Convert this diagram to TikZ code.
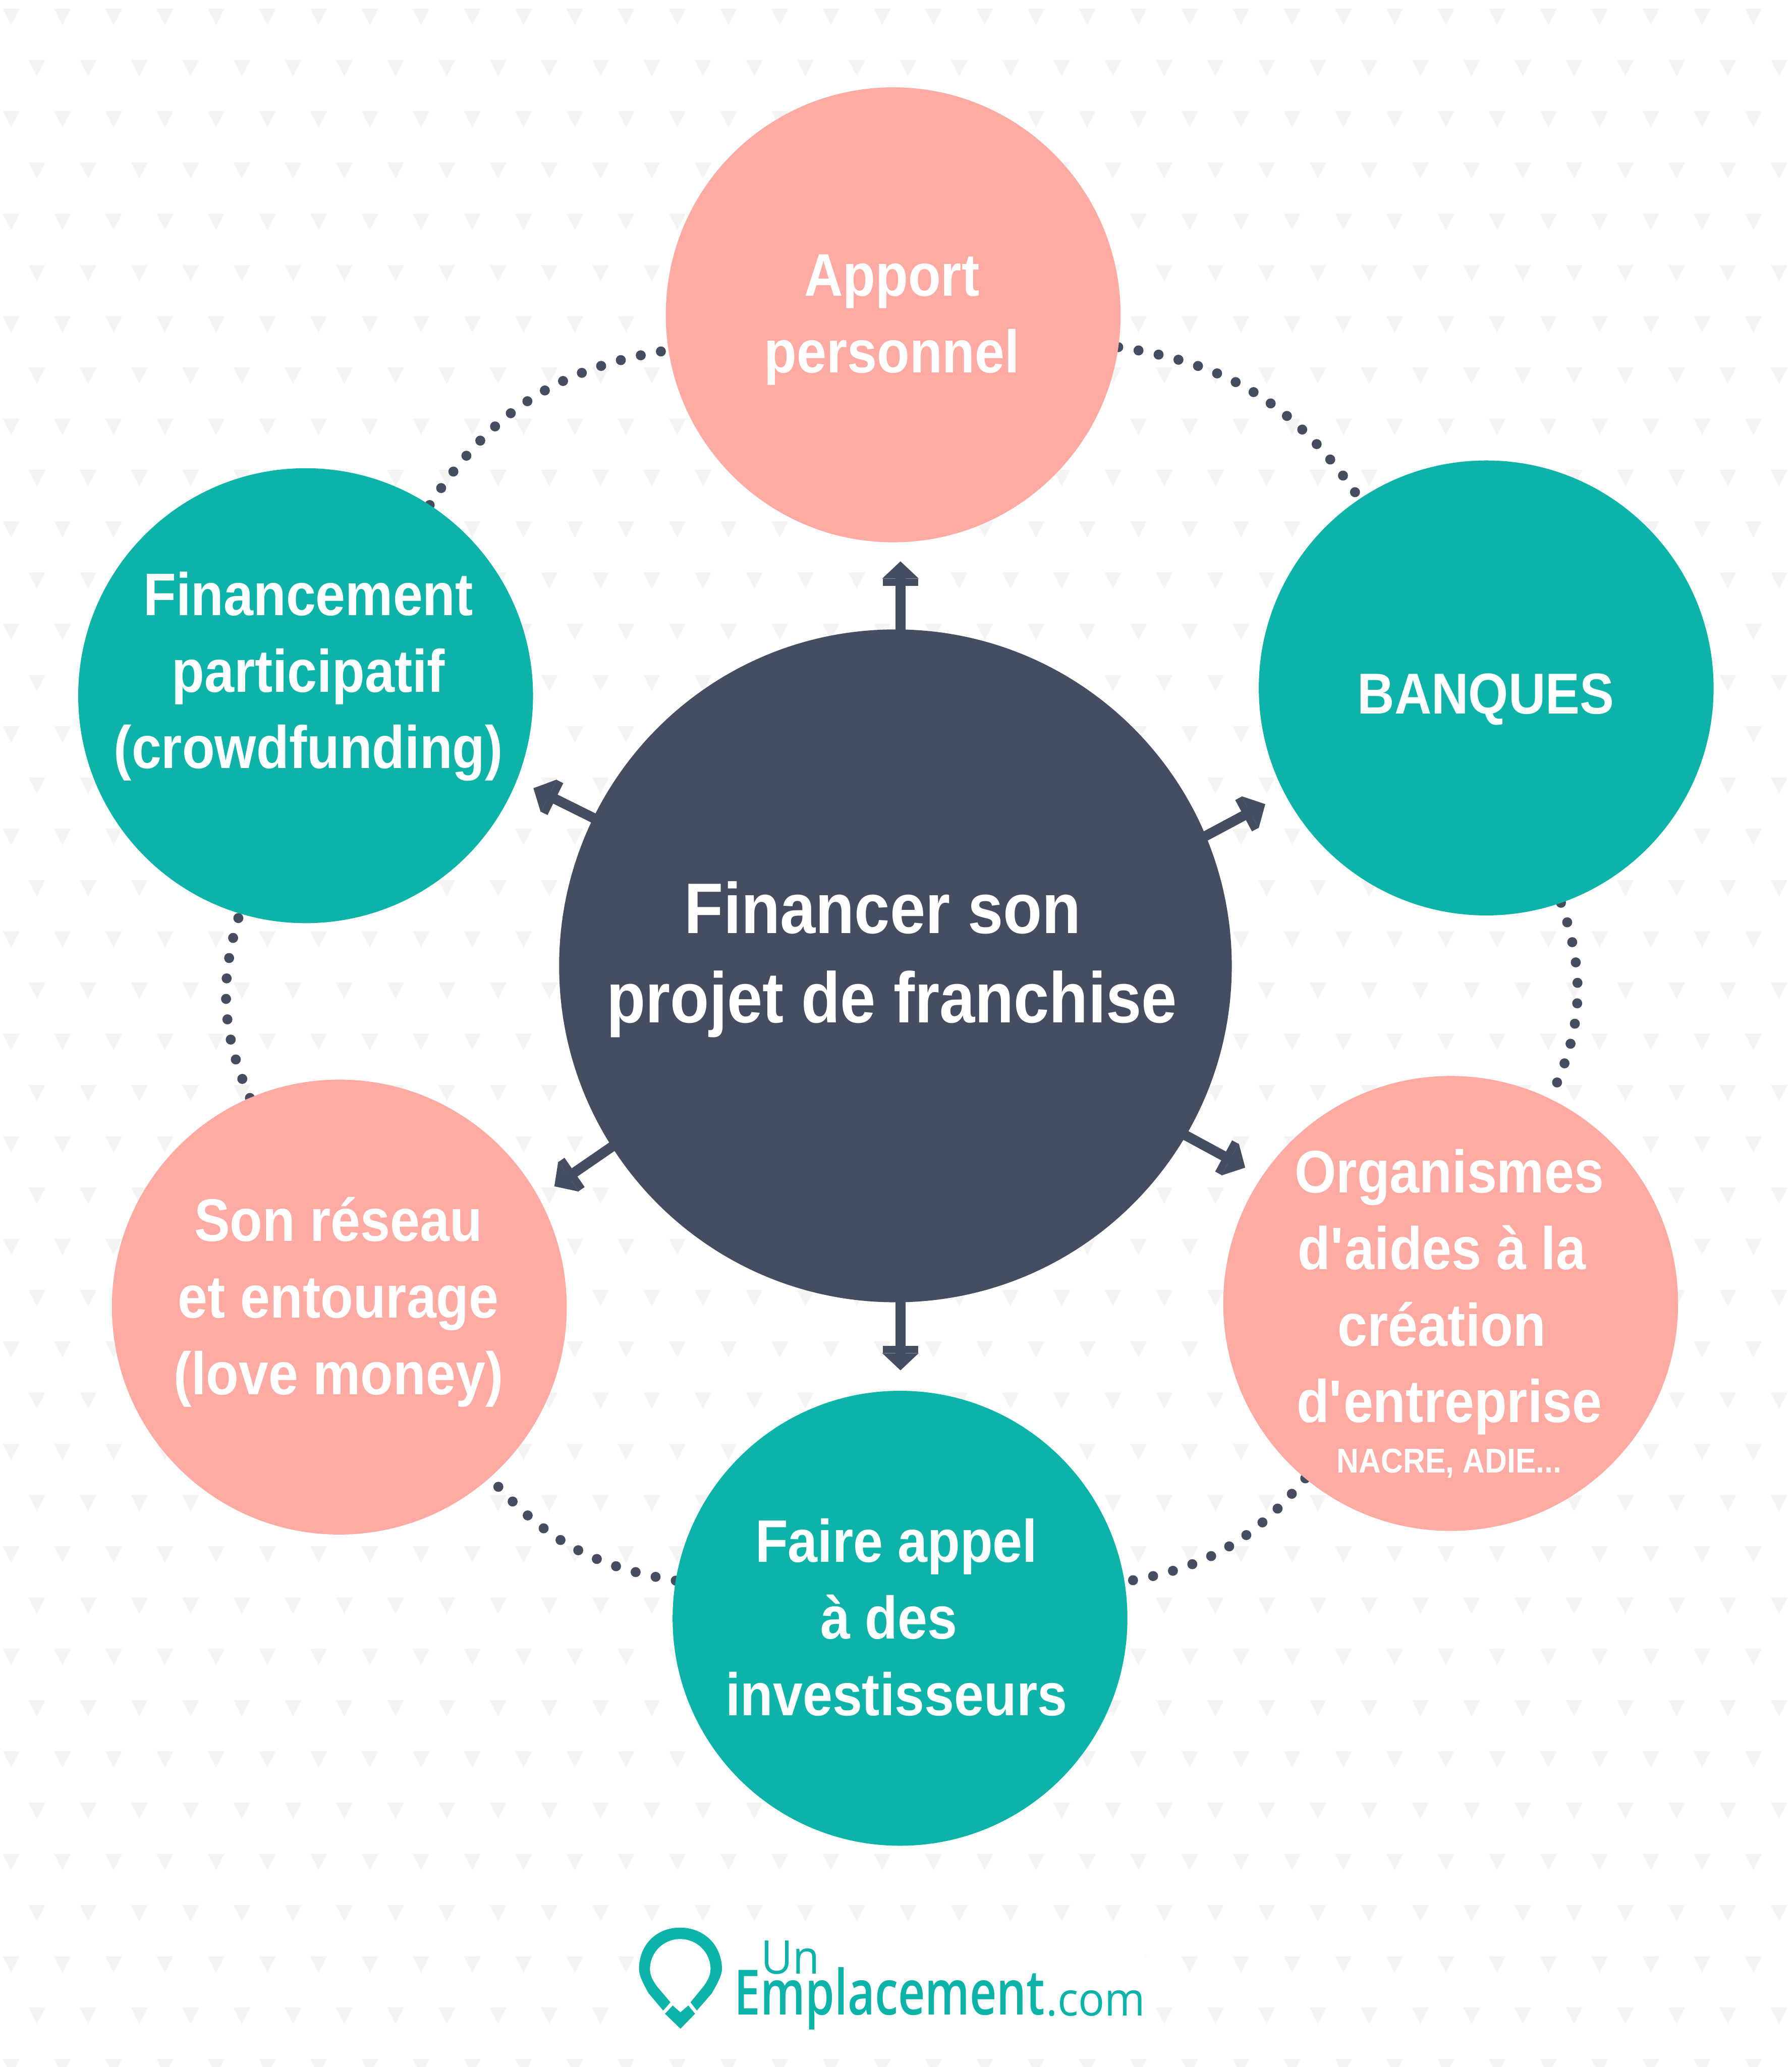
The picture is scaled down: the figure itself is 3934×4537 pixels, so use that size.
\documentclass[tikz,border=0pt]{standalone}
\usepackage{fontspec}
\setmainfont{Liberation Sans}[FakeStretch=0.89]
\newfontfamily\logofont{Open Sans}[FakeStretch=0.94]
\newfontfamily\logobold{Open Sans Semibold}[FakeStretch=0.75]
\usetikzlibrary{arrows.meta,backgrounds}
\definecolor{tealc}{HTML}{0DB3A9}
\definecolor{pinkc}{HTML}{FFAAA2}
\definecolor{darkc}{HTML}{454E60}
\definecolor{trig}{HTML}{F4F4F4}
\newcommand{\finl}{\kern0.25em\relax}

\begin{document}
\begin{tikzpicture}[x=0.01cm,y=-0.01cm,
  rond/.style={circle,minimum size=9.98cm,inner sep=0pt,outer sep=0pt},
  lbl/.style={text=white,align=center,inner sep=0pt,font=\bfseries\fontsize{37.5}{47.8}\selectfont},
  dotline/.style={darkc,line width=0.22cm,line cap=round,dash pattern=on 0pt off 0.45cm},
  fleche/.style={darkc,line width=0.22cm,shorten <=-4pt,-{Rectangle[length=0.16cm,width=0.78cm]Triangle[length=0.38cm,width=0.78cm]}}]
\useasboundingbox (0,0) rectangle (3934,4537);

\node[rond,fill=pinkc] (apport) at (1961,691) {};
\node[rond,fill=tealc] (banques) at (3263,1510) {};
\node[rond,fill=pinkc] (aides) at (3185,2861) {};
\node[rond,fill=tealc] (invest) at (1976,3552) {};
\node[rond,fill=pinkc] (reseau) at (745,2869) {};
\node[rond,fill=tealc] (crowd) at (671,1527) {};
\node[circle,minimum size=14.76cm,inner sep=0pt,outer sep=0pt,fill=darkc] (centre) at (1966,2120) {};

\node[lbl] (tapport) at (1958,702) {Apport\\personnel};
\node[lbl,font=\bfseries\fontsize{36}{47.8}\selectfont] (tbanques) at (3262,1535) {BANQUES};
\node[lbl] (taides) at (3182,2836) {Organismes\\d\textquotesingle aides à la\finl\\création\finl\\d\textquotesingle entreprise};
\node[lbl,font=\bfseries\fontsize{21.5}{25}\selectfont] (tnacre) at (3182,3212) {NACRE, ADIE...};
\node[lbl] (tinvest) at (1968,3550) {Faire appel\\à des\finl\\investisseurs};
\node[lbl] (treseau) at (743,2858) {Son réseau\\et entourage\\(love money)};
\node[lbl] (tcrowd) at (677,1485) {Financement\\participatif\\(crowdfunding)};
\node[lbl,font=\bfseries\fontsize{44.7}{56}\selectfont] (tcentre) at (1958,2106) {Financer son\finl\\projet de franchise};

\coordinate (pup) at (1977,1232);
\coordinate (pru) at (2778,1765);
\coordinate (prd) at (2734,2563);
\coordinate (pdn) at (1977,3008);
\coordinate (pld) at (1217,2604);
\coordinate (plu) at (1171,1730);

\begin{scope}[on background layer]
\foreach \row in {0,...,40} {
  \foreach \col in {0,...,35} {
    \pgfmathsetmacro{\xx}{24.5+112.5*\col+56.5*mod(\row,2)}
    \pgfmathsetmacro{\yy}{19+112.5*\row}
    \fill[trig] (\xx-18.5,\yy) -- (\xx+18.5,\yy) -- (\xx,\yy+36) -- cycle;
  }
}
\fill[white] (1398,4240) rectangle (2515,4480);

\draw[dotline] (apport) to[bend left=24] (banques);
\draw[dotline] (banques) to[bend left=22.5] (aides);
\draw[dotline] (aides) to[bend left=20.5] (invest);
\draw[dotline] (invest) to[bend left=19.5] (reseau);
\draw[dotline] (reseau) to[bend left=20] (crowd);
\draw[dotline] (crowd) to[bend left=24] (apport);

\draw[fleche] ([shift={(11,-736)}]centre.center) -- (pup);
\draw[fleche] ([shift={(679,-284)}]centre.center) -- (pru);
\draw[fleche] ([shift={(637,372)}]centre.center) -- (prd);
\draw[fleche] ([shift={(11,736)}]centre.center) -- (pdn);
\draw[fleche] ([shift={(-624,398)}]centre.center) -- (pld);
\draw[fleche] ([shift={(-662,-324)}]centre.center) -- (plu);
\end{scope}

% logo
\fill[tealc] (1456,4413) -- (1424,4375) .. controls (1410,4350) and (1403,4335) .. (1403,4322)
  .. controls (1403,4270) and (1440,4231) .. (1493,4231) .. controls (1546,4231) and (1585,4270) .. (1585,4322)
  .. controls (1585,4335) and (1577,4350) .. (1563,4375) -- (1530,4413) -- (1516,4395) -- (1543,4362)
  .. controls (1554,4348) and (1560,4335) .. (1560,4322) .. controls (1560,4285) and (1530,4256) .. (1493,4256)
  .. controls (1457,4256) and (1427,4285) .. (1427,4322) .. controls (1427,4335) and (1433,4348) .. (1444,4362)
  -- (1472,4395) -- cycle;
\fill[tealc] (1460,4420) -- (1477,4402) -- (1494,4417) -- (1511,4402) -- (1526,4420) -- (1494,4453) -- cycle;
\node[anchor=base west,inner sep=0pt,text=tealc,font=\logofont\fontsize{29}{29}\selectfont] (lun) at (1670,4333) {Un};
\node[anchor=base west,inner sep=0pt,text=tealc,font=\logobold\fontsize{39}{39}\selectfont] (lemp) at (1612,4422) {Emplacement};
\node[anchor=base west,inner sep=0pt,text=tealc,font=\logofont\fontsize{29}{29}\selectfont] (lcom) at (2296,4425) {.com};
\end{tikzpicture}
\end{document}
